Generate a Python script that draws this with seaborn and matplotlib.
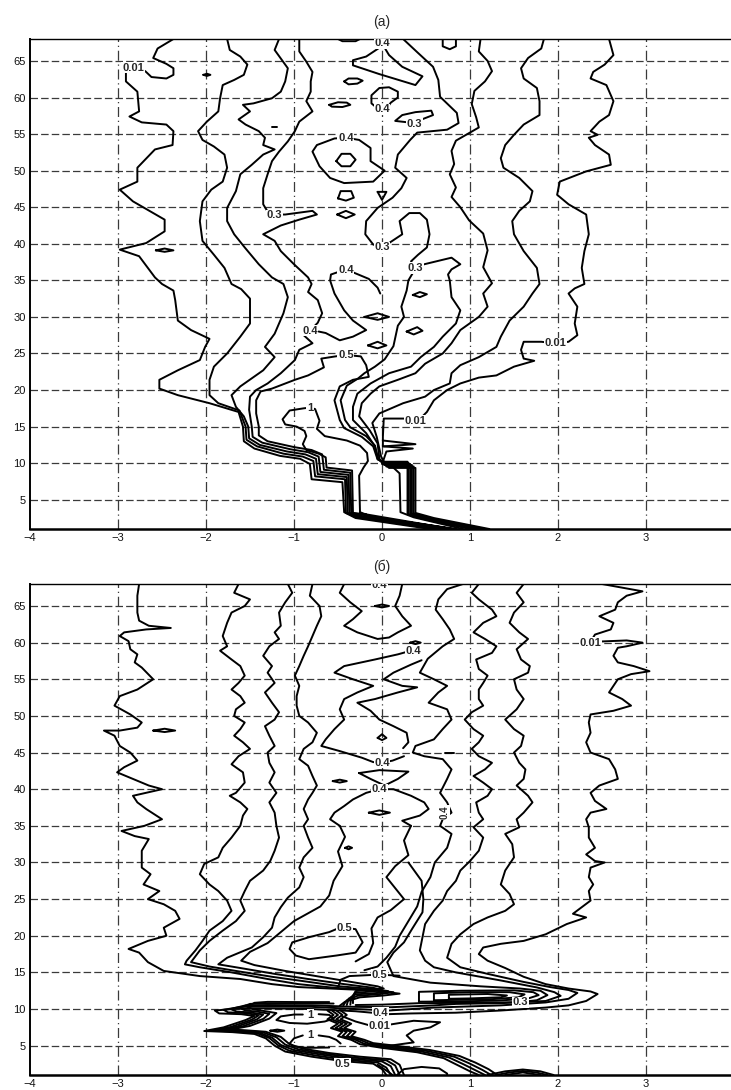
import matplotlib
matplotlib.use("Agg")
import matplotlib.pyplot as plt
import seaborn as sns
import pandas as pd

# ------------------------------------------------------------------ data
x_ticks = [-4, -3, -2, -1, 0, 1, 2, 3, 4]
y_ticks = [5, 10, 15, 20, 25, 30, 35, 40, 45, 50, 55, 60, 65]
panel_titles = ["(а)", "(б)"]

# ---- panel (а): contour lines, (x, y) points
a_A = [(-2.37,68.0),(-2.55,66.7),(-2.60,65.4),(-2.45,64.6),(-2.37,64.0),(-2.37,63.1),(-2.45,62.6),(-2.62,62.8),(-2.69,63.6),(-2.8,64.1),(-2.91,63.6),(-2.91,62.2),(-2.78,60.8),(-2.76,58.1),(-2.87,57.4),(-2.73,56.6),(-2.45,56.3),(-2.37,55.4),(-2.38,53.5),(-2.58,52.9),(-2.78,50.4),(-2.78,48.5),(-2.98,47.4),(-2.83,45.8),(-2.47,43.3),(-2.47,41.7),(-2.68,40.1),(-2.98,39.2),(-2.76,38.3),(-2.58,35.4),(-2.5,34.5),(-2.37,33.6),(-2.35,32.3),(-2.32,29.5),(-2.17,28.2),(-1.96,27.0),(-2.01,25.9),(-2.07,24.1),(-2.32,22.7),(-2.53,21.4),(-2.53,20.2),(-2.32,19.3),(-1.96,18.2),(-1.63,17.0),(-1.58,15.0),(-1.57,13.0),(-1.45,12.0),(-1.16,11.0),(-0.93,10.6),(-0.82,9.9),(-0.80,7.8),(-0.45,7.4),(-0.43,3.3),(-0.30,2.5),(0.55,1.0)]
a_B = [(-1.76,68.0),(-1.73,66.5),(-1.61,65.6),(-1.53,64.5),(-1.57,63.1),(-1.68,62.4),(-1.81,61.7),(-1.84,59.9),(-1.86,58.1),(-1.99,56.7),(-2.09,55.4),(-2.04,54.2),(-1.91,53.3),(-1.79,52.2),(-1.76,50.4),(-1.81,48.5),(-1.94,47.4),(-2.04,45.8),(-2.07,43.1),(-2.04,40.4),(-1.91,38.5),(-1.79,36.7),(-1.71,34.5),(-1.6,33.8),(-1.5,32.5),(-1.5,29.1),(-1.61,27.3),(-1.76,25.0),(-1.91,23.2),(-1.96,21.4),(-1.96,19.3),(-1.86,18.2),(-1.62,17.2),(-1.55,15.0),(-1.54,13.2),(-1.42,12.3),(-1.12,11.3),(-0.90,10.9),(-0.78,10.3),(-0.76,8.2),(-0.42,7.8),(-0.41,3.2),(-0.28,2.6),(0.60,1.0)]
a_C = [(-1.17,68.0),(-1.22,66.5),(-1.07,64.0),(-1.10,62.2),(-1.15,60.8),(-1.25,59.9),(-1.46,59.2),(-1.58,59.0),(-1.50,58.1),(-1.63,57.0),(-1.55,56.3),(-1.40,55.4),(-1.33,54.5),(-1.35,53.5),(-1.22,52.9),(-1.35,52.2),(-1.48,50.8),(-1.61,49.5),(-1.66,47.2),(-1.76,44.9),(-1.76,43.1),(-1.68,41.3),(-1.56,39.5),(-1.40,37.2),(-1.25,35.4),(-1.12,34.5),(-1.07,32.7),(-1.12,30.5),(-1.22,27.7),(-1.33,25.9),(-1.22,24.5),(-1.35,22.7),(-1.61,20.5),(-1.71,19.3),(-1.66,17.7),(-1.57,16.4),(-1.52,15.0),(-1.51,13.4),(-1.39,12.5),(-1.08,11.6),(-0.87,11.2),(-0.75,10.6),(-0.73,8.5),(-0.40,8.1),(-0.39,3.2),(-0.26,2.7),(0.65,1.0)]
a_D = [(-0.94,68.0),(-0.94,66.3),(-0.86,64.9),(-0.79,63.5),(-0.81,62.2),(-0.81,60.8),(-0.86,59.5),(-0.79,58.1),(-0.94,56.7),(-0.99,55.4),(-1.07,54.0),(-1.17,52.6),(-1.25,51.3),(-1.30,49.5),(-1.35,47.6),(-1.35,45.4),(-1.28,44.0),(-1.10,44.0),(-0.79,44.5),(-0.74,44.0),(-0.94,43.3),(-1.15,42.5),(-1.35,41.3),(-1.22,40.4),(-1.15,39.0),(-1.00,37.2),(-0.84,35.4),(-0.80,34.5),(-0.84,33.4),(-0.73,32.3),(-0.68,30.5),(-0.73,29.2),(-0.82,28.1),(-0.89,27.5),(-0.79,26.4),(-0.94,25.5),(-0.99,24.1),(-1.15,22.3),(-1.30,20.9),(-1.43,20.0),(-1.50,19.1),(-1.51,17.3),(-1.48,15.0),(-1.47,13.6),(-1.36,12.8),(-1.04,11.9),(-0.84,11.5),(-0.72,10.9),(-0.70,8.8),(-0.38,8.4),(-0.37,3.2),(-0.24,2.8),(0.70,1.0)]
a_hook = [(-0.02,33.2),(-0.05,34.0),(-0.15,35.2),(-0.41,36.5),(-0.58,35.8),(-0.59,35.0),(-0.54,33.2),(-0.43,30.9),(-0.33,29.5),(-0.18,28.2),(-0.33,27.3),(-0.48,26.8),(-0.64,27.8),(-0.72,28.0)]
a_05 = [(0.75,1.0),(-0.20,2.9),(-0.35,3.2),(-0.36,8.7),(-0.66,9.1),(-0.68,11.2),(-0.80,11.8),(-1.00,12.2),(-1.30,13.0),(-1.40,13.8),(-1.40,15.0),(-1.43,16.8),(-1.43,18.6),(-1.38,19.8),(-1.25,20.2),(-0.99,21.4),(-0.84,22.0),(-0.66,23.1),(-0.69,24.3),(-0.53,24.6),(-0.41,24.8),(-0.24,24.6),(-0.18,23.4),(-0.15,21.8),(-0.33,21.4),(-0.48,20.5),(-0.54,18.6),(-0.48,15.9),(-0.43,14.8),(-0.23,13.6),(-0.10,12.3),(-0.05,10.5),(0.03,10.2),(0.29,10.2),(0.29,3.0),(0.46,2.4),(1.00,1.0)]
a_one = [(0.80,1.0),(-0.18,3.0),(-0.33,3.2),(-0.34,9.0),(-0.63,9.4),(-0.64,10.8),(-0.72,11.3),(-0.86,11.8),(-0.90,12.6),(-0.86,13.7),(-0.88,14.4),(-0.97,15.0),(-1.10,15.3),(-1.13,16.0),(-1.05,17.2),(-0.89,17.5),(-0.82,17.6),(-0.76,17.4),(-0.71,15.8),(-0.74,14.7),(-0.65,13.7),(-0.40,13.1),(-0.25,12.4),(-0.17,11.4),(-0.16,10.3),(-0.21,9.4),(-0.26,8.3),(-0.25,3.3),(-0.10,2.6),(0.85,1.0)]
a_thin = [(0.0,9.9),(0.12,9.5),(0.2,8.6),(0.21,3.3),(0.36,2.6),(0.92,1.0)]
a_R1 = [(0.24,68.0),(0.40,66.2),(0.58,64.2),(0.64,62.4),(0.66,60.1),(0.85,57.9),(0.87,56.5),(0.74,55.6),(0.40,55.2),(0.32,54.2),(0.18,52.2),(0.15,50.4),(0.28,49.0),(0.22,47.6),(0.12,46.3),(-0.05,44.9),(-0.18,43.1),(-0.19,41.3),(-0.10,39.9),(0.0,39.5),(0.08,40.1),(0.23,41.3),(0.20,43.1),(0.31,44.2),(0.43,44.2),(0.51,43.3),(0.54,41.3),(0.51,39.5),(0.41,38.5),(0.33,37.6),(0.38,36.7),(0.48,37.2),(0.79,38.1),(0.89,37.2),(0.79,36.5),(0.75,35.8),(0.77,35.0),(0.79,32.7),(0.89,30.9),(0.84,29.1),(0.69,27.3),(0.59,25.9),(0.44,24.5),(0.33,23.2),(0.08,22.3),(-0.13,20.9),(-0.28,19.5),(-0.33,17.7),(-0.33,15.9),(-0.18,14.1),(-0.08,12.3),(-0.04,10.5),(0.02,9.9),(0.32,9.9),(0.32,3.0),(0.50,2.35),(1.08,1.0)]
a_L855 = [(0.36,36.2),(0.30,35.0),(0.28,33.6),(0.22,31.4),(0.25,30.0),(0.18,28.8),(0.13,26.0),(0.03,24.2),(-0.08,23.2),(-0.2,22.3),(-0.27,21.6),(-0.40,20.6),(-0.47,18.6),(-0.42,15.9),(-0.36,14.9),(-0.18,13.7),(-0.08,12.4),(-0.05,10.6),(0.02,10.05),(0.30,10.05),(0.30,3.0),(0.48,2.4),(1.04,1.0)]
a_E = [(1.12,68.0),(1.10,66.3),(1.20,65.0),(1.25,63.6),(1.17,62.2),(1.05,60.9),(1.02,59.1),(1.07,57.3),(1.10,55.9),(0.97,55.0),(0.84,54.1),(0.79,52.7),(0.82,50.9),(0.77,49.5),(0.84,47.7),(0.79,46.4),(0.89,45.0),(0.99,43.2),(1.15,41.4),(1.20,39.1),(1.15,36.8),(1.25,34.6),(1.15,33.2),(1.20,31.4),(1.10,30.0),(0.89,28.2),(0.79,26.4),(0.69,25.0),(0.49,23.6),(0.38,22.3),(0.18,21.4),(-0.03,20.5),(-0.13,19.5),(-0.23,18.2),(-0.26,16.4),(-0.14,14.5),(-0.05,12.7),(-0.03,10.6),(0.03,9.75),(0.34,9.75),(0.34,3.1),(0.53,2.4),(1.12,1.0)]
a_F = [(1.84,68.0),(1.81,66.7),(1.66,65.4),(1.58,64.0),(1.61,62.6),(1.76,61.3),(1.79,59.5),(1.79,57.6),(1.61,56.3),(1.50,54.9),(1.40,53.5),(1.35,51.7),(1.38,50.4),(1.56,49.0),(1.71,47.2),(1.68,45.8),(1.56,44.5),(1.48,43.1),(1.50,41.3),(1.61,39.0),(1.76,36.7),(1.79,34.5),(1.71,33.2),(1.61,31.4),(1.45,29.5),(1.35,27.3),(1.30,25.9),(1.10,24.5),(0.89,23.4),(0.79,22.3),(0.77,20.9),(0.59,20.0),(0.49,19.1),(0.24,18.2),(-0.03,16.8),(-0.11,15.5),(-0.06,13.6),(-0.01,10.9),(0.05,9.55),(0.36,9.55),(0.36,3.15),(0.56,2.45),(1.17,1.0)]
a_G = [(2.58,68.0),(2.63,65.8),(2.53,64.5),(2.40,63.5),(2.37,62.6),(2.55,61.7),(2.63,59.5),(2.58,57.6),(2.47,56.7),(2.37,55.4),(2.45,54.9),(2.35,54.5),(2.42,53.5),(2.58,52.2),(2.60,50.8),(2.32,49.9),(2.02,48.5),(1.99,46.7),(2.12,45.4),(2.32,44.0),(2.35,41.3),(2.30,39.0),(2.27,36.7),(2.30,34.5),(2.19,33.9),(2.12,33.2),(2.22,31.4),(2.19,29.1),(2.22,27.5),(2.12,26.6),(1.96,26.4),(1.81,26.6),(1.61,26.6),(1.58,25.5),(1.61,24.3),(1.73,24.0),(1.50,23.2),(1.30,22.0),(1.10,21.7),(0.89,20.9),(0.74,20.0),(0.59,18.6),(0.51,17.0),(0.46,16.4),(0.38,15.8),(0.25,16.1),(0.02,16.1),(0.01,13.6),(0.01,12.3),(0.35,12.0),(0.05,11.6),(0.01,10.2),(0.08,9.35),(0.38,9.35),(0.38,3.2),(0.59,2.5),(1.22,1.0)]
a_top04 = [(-0.03,66.8),(-0.18,65.6),(-0.33,65.1),(-0.33,64.4),(-0.03,63.2),(0.38,61.7),(0.46,62.9),(0.23,64.2),(0.08,65.8),(0.03,66.8)]
a_arc = [(-0.5,68.0),(-0.45,67.7),(-0.3,67.7),(-0.25,68.0)]
a_ucup = [(0.69,68.0),(0.69,67.0),(0.77,66.6),(0.84,67.0),(0.84,68.0)]
a_e1 = [(-0.43,62.2),(-0.38,62.6),(-0.28,62.6),(-0.22,62.3),(-0.28,61.9),(-0.38,61.8),(-0.43,62.2)]
a_e2 = [(-0.6,59.0),(-0.5,59.35),(-0.4,59.3),(-0.36,59.0),(-0.45,58.7),(-0.57,58.75),(-0.6,59.0)]
a_ring = [(-0.06,58.6),(-0.12,59.2),(-0.12,60.3),(-0.03,61.3),(0.08,61.4),(0.18,60.8),(0.18,60.0),(0.1,59.3),(0.06,58.6)]
a_tear03 = [(0.37,56.5),(0.15,56.8),(0.23,57.6),(0.38,58.0),(0.56,58.2),(0.58,57.6),(0.43,56.9),(0.37,56.5)]
a_big04 = [(-0.41,54.5),(-0.26,54.2),(-0.13,53.1),(-0.13,51.3),(0.03,50.0),(-0.1,48.5),(-0.43,48.3),(-0.59,49.0),(-0.71,50.6),(-0.79,52.6),(-0.74,53.5),(-0.54,54.4),(-0.41,54.5)]
a_inner = [(-0.52,51.3),(-0.46,52.3),(-0.36,52.3),(-0.3,51.5),(-0.36,50.6),(-0.46,50.6),(-0.52,51.3)]
a_e3 = [(-0.5,46.2),(-0.47,47.2),(-0.35,47.2),(-0.32,46.3),(-0.41,45.9),(-0.5,46.2)]
a_e4 = [(-0.05,47.1),(0.0,46.0),(0.05,47.1),(-0.05,47.1)]
a_e5 = [(-0.51,44.0),(-0.41,44.5),(-0.31,44.0),(-0.41,43.5),(-0.51,44.0)]
a_e6 = [(-2.03,63.1),(-1.99,63.25),(-1.95,63.1),(-1.99,62.95),(-2.03,63.1)]
a_e7 = [(-1.25,56.0),(-1.19,56.0)]
a_e8 = [(-2.57,39.1),(-2.47,39.35),(-2.37,39.1),(-2.47,38.9),(-2.57,39.1)]
a_e9 = [(0.35,33.0),(0.43,33.4),(0.51,33.1),(0.43,32.7),(0.35,33.0)]
a_e10 = [(-0.2,30.0),(-0.05,30.5),(0.08,30.0),(-0.05,29.6),(-0.2,30.0)]
a_e11 = [(0.28,28.0),(0.4,28.6),(0.46,28.1),(0.36,27.6),(0.28,28.0)]
a_e12 = [(-0.16,26.1),(-0.05,26.6),(0.05,26.1),(-0.05,25.7),(-0.16,26.1)]
a_spike = [(0.01,13.1),(0.38,12.6),(0.02,12.3)]
a_labels = [("0.01",-2.83,64.1),("0.4",0.0,67.4),("0.4",0.0,58.4),("0.3",0.37,56.4),("0.4",-0.41,54.5),
            ("0.3",-1.22,43.9),("0.3",0.0,39.5),("0.3",0.38,36.7),("0.4",-0.41,36.4),("0.4",-0.82,28.1),
            ("0.5",-0.41,24.8),("0.01",1.97,26.4),("1",-0.82,17.6),("0.01",0.38,15.8)]

# ---- panel (б)
b_A = [(-2.76,68.0),(-2.78,66.4),(-2.78,64.1),(-2.76,63.0),(-2.65,62.3),(-2.40,62.0),(-2.68,61.8),(-2.93,61.4),(-2.98,60.9),(-2.88,60.2),(-2.86,59.1),(-2.78,58.4),(-2.81,57.3),(-2.73,56.6),(-2.60,55.0),(-2.78,53.6),(-2.98,52.7),(-3.04,51.4),(-2.86,50.2),(-2.73,49.1),(-2.78,48.4),(-2.98,48.0),(-3.16,48.0),(-3.04,47.3),(-2.98,45.9),(-2.86,45.0),(-2.78,43.9),(-2.93,43.0),(-3.01,42.3),(-2.83,41.4),(-2.65,40.5),(-2.50,40.0),(-2.83,39.1),(-2.78,38.2),(-2.68,37.3),(-2.50,35.9),(-2.70,35.0),(-2.96,34.3),(-2.81,33.6),(-2.65,33.2),(-2.73,31.6),(-2.73,29.3),(-2.63,28.4),(-2.71,27.0),(-2.53,26.1),(-2.66,25.0),(-2.48,24.3),(-2.35,23.4),(-2.30,22.3),(-2.48,21.1),(-2.45,20.0),(-2.66,19.3),(-2.88,18.2),(-2.76,17.7),(-2.66,16.4),(-2.48,15.2),(-2.07,14.5),(-1.61,14.1),(-1.25,13.4),(-0.95,13.0),(-0.50,12.75),(-0.10,12.55),(0.20,12.1),(0.02,11.85),(-0.25,11.6),(-0.42,11.0),(-0.48,10.45)]
b_B = [(-1.63,68.0),(-1.68,66.8),(-1.50,65.9),(-1.56,65.0),(-1.71,64.1),(-1.76,62.7),(-1.81,60.9),(-1.76,59.5),(-1.84,58.9),(-1.71,57.7),(-1.61,56.8),(-1.56,55.5),(-1.63,54.5),(-1.71,53.6),(-1.61,52.7),(-1.56,51.8),(-1.66,50.9),(-1.68,50.0),(-1.56,49.1),(-1.61,48.2),(-1.68,47.3),(-1.58,46.4),(-1.50,45.5),(-1.63,44.5),(-1.71,43.4),(-1.58,42.3),(-1.56,40.9),(-1.66,39.5),(-1.73,39.1),(-1.61,38.2),(-1.53,37.3),(-1.58,36.4),(-1.61,35.0),(-1.71,33.4),(-1.81,32.0),(-1.86,30.7),(-2.02,29.8),(-2.07,28.4),(-1.96,27.0),(-1.86,26.1),(-1.76,24.8),(-1.71,23.4),(-1.81,22.0),(-1.96,20.7),(-2.04,19.3),(-2.12,18.0),(-2.22,16.6),(-2.24,16.1),(-2.07,15.7),(-1.71,15.0),(-1.30,14.1),(-0.95,13.4),(-0.54,12.9),(-0.13,12.6),(0.13,12.3),(-0.02,12.05),(-0.28,11.8),(-0.40,11.2),(-0.44,10.5)]
b_C = [(-1.07,68.0),(-1.02,66.8),(-1.10,65.5),(-1.17,64.1),(-1.15,62.3),(-1.22,61.4),(-1.17,60.5),(-1.28,59.5),(-1.35,58.2),(-1.25,56.8),(-1.30,55.9),(-1.22,54.5),(-1.33,53.2),(-1.25,51.8),(-1.17,50.5),(-1.22,49.5),(-1.33,48.6),(-1.28,47.3),(-1.22,45.9),(-1.30,45.0),(-1.28,43.6),(-1.22,42.3),(-1.28,40.9),(-1.20,39.5),(-1.28,38.2),(-1.22,36.8),(-1.20,35.0),(-1.17,33.4),(-1.22,31.6),(-1.27,30.2),(-1.35,28.9),(-1.50,27.5),(-1.56,26.1),(-1.61,24.8),(-1.56,23.4),(-1.66,22.0),(-1.81,20.7),(-1.96,19.3),(-2.07,18.0),(-2.17,16.4),(-1.96,15.8),(-1.66,15.2),(-1.25,14.4),(-0.89,13.8),(-0.48,13.1),(-0.08,12.7),(0.07,12.45),(-0.05,12.2),(-0.30,12.0),(-0.38,11.4),(-0.40,10.55)]
b_D = [(-0.79,68.0),(-0.82,66.4),(-0.71,65.0),(-0.69,63.6),(-0.74,62.3),(-0.79,60.9),(-0.84,59.5),(-0.89,58.2),(-0.94,56.8),(-0.99,55.5),(-0.94,54.1),(-0.97,52.7),(-0.97,51.4),(-0.94,50.0),(-0.84,49.1),(-0.74,47.7),(-0.79,46.4),(-0.89,45.5),(-0.94,44.1),(-0.84,43.2),(-0.79,41.8),(-0.74,40.5),(-0.79,39.5),(-0.84,38.6),(-0.89,37.3),(-0.84,35.9),(-0.89,35.0),(-0.84,33.4),(-0.79,32.0),(-0.89,30.7),(-0.94,29.3),(-0.89,28.0),(-0.94,26.6),(-1.07,25.2),(-1.15,23.9),(-1.22,22.5),(-1.25,21.1),(-1.35,19.8),(-1.48,18.4),(-1.76,17.0),(-1.86,16.1),(-1.61,15.6),(-1.22,14.8),(-0.84,14.1),(-0.43,13.4),(-0.10,12.9),(0.0,12.6),(-0.12,12.4),(-0.30,12.2),(-0.35,11.6),(-0.36,10.6)]
b_U = [(-0.43,68.0),(-0.48,66.8),(-0.36,65.5),(-0.23,64.3),(-0.33,63.2),(-0.43,62.3),(-0.28,61.4),(-0.05,60.5),(0.08,60.7),(0.18,61.4),(0.33,62.3),(0.23,63.6),(0.15,65.0),(0.20,66.4),(0.23,68.0)]
b_M1 = [(0.33,58.9),(0.18,58.4),(-0.08,57.7),(-0.43,56.8),(-0.54,55.9),(-0.33,55.0),(-0.10,54.1),(-0.28,53.2),(-0.43,52.3),(-0.48,50.9),(-0.43,49.5),(-0.54,48.2),(-0.64,46.8),(-0.69,45.9),(-0.48,45.2),(-0.23,44.3),(-0.10,43.7),(0.0,43.6),(0.12,43.9),(0.25,44.5)]
b_G = [(0.92,68.0),(0.74,67.3),(0.64,65.9),(0.61,64.5),(0.69,63.2),(0.77,61.8),(0.82,60.5),(0.69,59.5),(0.52,57.8),(0.43,55.9),(0.59,55.0),(0.74,54.1),(0.64,53.2),(0.53,51.8),(0.74,50.9),(0.79,49.5),(0.69,48.2),(0.59,46.8),(0.38,45.9),(0.35,45.0),(0.48,44.5),(0.69,44.1),(0.79,42.7),(0.74,41.4),(0.66,39.5),(0.74,38.2),(0.79,36.8),(0.69,35.9),(0.66,35.0),(0.79,33.9),(0.74,32.0),(0.6,30.0),(0.55,28.0),(0.45,26.0),(0.4,24.0),(0.3,22.0),(0.2,20.0),(0.15,18.5),(0.05,17.0),(-0.05,15.8),(-0.2,15.3)]
b_M2 = [(0.45,57.6),(0.33,57.0),(0.13,55.9),(0.02,55.0),(0.23,54.1),(0.40,53.9),(0.18,53.2),(-0.08,52.3),(-0.28,51.8),(-0.13,50.7),(-0.03,49.5),(0.13,48.6),(0.28,47.7),(0.30,46.4),(0.24,45.6)]
b_N = [(-0.48,35.0),(-0.59,35.9),(-0.54,36.8),(-0.43,37.7),(-0.33,38.6),(-0.18,39.5),(-0.03,40.0),(0.13,40.0),(0.33,39.1),(0.48,38.2),(0.53,37.3),(0.43,36.4),(0.23,35.7),(0.33,35.0)]
b_P1 = [(-0.48,35.0),(-0.42,33.5),(-0.5,31.5),(-0.45,29.5),(-0.55,27.5),(-0.6,25.5),(-0.7,24.0),(-0.85,23.0),(-1.0,22.0),(-1.15,20.5),(-1.3,19.0),(-1.5,17.8),(-1.6,16.6),(-1.45,16.0),(-1.1,15.2),(-0.7,14.4),(-0.3,13.6),(-0.05,13.1),(0.02,12.8),(-0.1,12.65),(-0.3,12.45),(-0.33,11.8),(-0.33,10.8)]
b_P2 = [(0.33,35.0),(0.25,33.0),(0.3,31.0),(0.15,29.5),(0.05,28.0),(0.15,26.5),(0.25,25.0),(0.1,23.5),(-0.05,22.5),(-0.12,21.0),(-0.1,19.0),(-0.15,17.5),(-0.3,16.5)]
b_H = [(1.10,68.0),(1.02,66.8),(1.10,65.9),(1.25,64.5),(1.30,63.6),(1.15,62.7),(1.04,61.4),(1.17,60.5),(1.30,59.5),(1.25,58.6),(1.07,57.7),(1.10,56.4),(1.20,55.5),(1.15,54.5),(1.10,53.6),(1.10,52.3),(1.15,51.4),(1.02,50.5),(0.94,49.5),(1.04,48.2),(1.15,47.3),(1.10,46.4),(1.02,45.5),(1.10,44.5),(1.25,43.6),(1.17,42.7),(1.04,41.8),(1.15,40.9),(1.25,40.0),(1.20,39.1),(1.07,38.2),(1.10,36.8),(1.15,35.9),(1.04,34.8),(1.15,33.4),(1.10,31.6),(1.00,30.2),(0.89,28.9),(0.84,27.5),(0.74,26.1),(0.69,24.8),(0.59,23.4),(0.49,21.6),(0.46,19.8),(0.43,18.0),(0.49,16.6),(0.59,15.7),(0.84,15.0),(1.35,13.9),(1.76,12.95),(1.96,12.3),(2.03,11.8),(1.86,11.1),(1.35,10.8),(0.84,10.7),(0.59,10.5),(0.1,10.25),(-0.3,10.3),(-0.8,10.5),(-1.3,10.55),(-1.55,10.5),(-1.72,10.0),(-1.65,9.65),(-1.5,9.55),(-1.35,9.25),(-1.42,8.6),(-1.65,7.6),(-1.88,7.1),(-1.65,7.0),(-1.4,6.8),(-1.25,6.1),(-1.15,5.1),(-1.0,4.4),(-0.7,3.8),(-0.35,3.2),(0.0,2.85),(0.1,2.2),(0.15,1.0)]
b_I = [(1.61,68.0),(1.53,66.8),(1.61,65.5),(1.50,64.1),(1.45,62.7),(1.56,61.4),(1.66,60.5),(1.53,59.1),(1.58,57.7),(1.68,56.8),(1.66,55.9),(1.50,55.0),(1.53,53.6),(1.61,52.3),(1.53,50.9),(1.40,49.5),(1.50,48.2),(1.61,47.3),(1.58,45.9),(1.50,45.0),(1.56,43.6),(1.63,42.7),(1.61,41.4),(1.53,40.5),(1.66,39.1),(1.71,38.2),(1.61,36.8),(1.53,35.9),(1.56,34.8),(1.40,33.9),(1.48,32.5),(1.50,30.7),(1.40,28.9),(1.35,27.0),(1.45,25.7),(1.50,24.3),(1.40,23.4),(1.20,22.5),(1.04,21.6),(0.89,20.2),(0.79,18.9),(0.74,17.0),(0.89,15.7),(1.20,14.8),(1.61,13.7),(1.91,13.0),(2.12,12.6),(2.22,12.2),(2.12,11.4),(1.86,10.9),(1.35,10.5),(0.59,10.2),(0.08,9.8),(-0.3,10.0),(-0.8,10.3),(-1.3,10.35),(-1.6,10.3),(-1.8,9.9),(-1.75,9.55),(-1.55,9.45),(-1.4,9.15),(-1.48,8.55),(-1.72,7.55),(-1.95,7.05),(-1.68,6.95),(-1.42,6.7),(-1.28,6.05),(-1.18,5.05),(-1.05,4.3),(-0.75,3.65),(-0.4,3.05),(-0.05,2.7),(0.05,2.0),(0.1,1.0)]
b_J = [(2.50,68.0),(2.73,67.5),(2.96,67.0),(2.78,66.4),(2.68,65.5),(2.65,64.5),(2.47,63.6),(2.63,62.7),(2.60,61.8),(2.42,61.1),(2.37,60.1),(2.58,60.2),(2.78,60.3),(2.96,60.0),(2.78,59.5),(2.68,59.3),(2.63,58.2),(2.68,57.3),(2.86,56.8),(3.04,56.1),(2.83,55.7),(2.68,55.0),(2.63,54.1),(2.58,53.2),(2.73,52.3),(2.83,51.4),(2.63,50.7),(2.37,50.2),(2.35,49.1),(2.37,47.7),(2.32,46.4),(2.37,45.0),(2.58,44.1),(2.65,42.7),(2.68,41.4),(2.47,40.5),(2.37,39.5),(2.42,38.4),(2.55,37.3),(2.37,36.8),(2.32,35.9),(2.35,34.8),(2.35,33.4),(2.42,32.0),(2.32,31.1),(2.42,30.2),(2.53,30.0),(2.37,29.3),(2.35,28.0),(2.40,27.0),(2.35,26.1),(2.37,24.8),(2.27,23.9),(2.17,23.0),(2.32,22.5),(2.10,21.6),(1.86,20.2),(1.61,19.3),(1.35,18.9),(1.15,18.4),(1.10,17.5),(1.20,16.6),(1.40,15.6),(1.61,14.4),(1.86,13.4),(2.12,12.8),(2.37,12.4),(2.45,12.05),(2.32,11.1),(2.12,10.5),(1.86,10.2),(1.35,9.8),(0.84,9.5),(0.33,9.4),(0.07,9.3),(-0.3,9.7),(-0.8,10.0),(-1.3,10.1),(-1.65,10.05),(-1.9,9.8),(-1.85,9.4),(-1.6,9.3),(-1.45,9.05),(-1.55,8.5),(-1.8,7.5),(-2.02,7.0),(-1.7,6.85),(-1.45,6.6),(-1.32,6.0),(-1.22,5.0),(-1.1,4.2),(-0.8,3.5),(-0.45,2.9),(-0.1,2.55),(0.0,1.8),(0.05,1.0)]
b_X1 = [(-0.55,10.75),(-0.9,10.75),(-1.3,10.78),(-1.5,10.7),(-1.62,10.15),(-1.55,9.8),(-1.42,9.65),(-1.28,9.35),(-1.35,8.65),(-1.58,7.65),(-1.8,7.15),(-1.6,7.05),(-1.36,6.85),(-1.2,6.15),(-1.1,5.15),(-0.95,4.5),(-0.65,3.9),(-0.3,3.35),(0.05,3.0),(0.15,2.3),(0.2,1.0)]
b_X2 = [(-0.6,10.95),(-0.9,10.95),(-1.3,10.98),(-1.45,10.85),(-1.53,10.3),(-1.46,9.95),(-1.35,9.75),(-1.2,9.45),(-1.28,8.7),(-1.5,7.7),(-1.72,7.2),(-1.55,7.1),(-1.32,6.9),(-1.15,6.2),(-1.05,5.2),(-0.9,4.6),(-0.6,4.0),(-0.25,3.5),(0.1,3.15),(0.2,2.4),(0.25,1.0)]
b_K = [(0.30,30.0),(0.45,27.5),(0.47,25.0),(0.46,23.2),(0.34,20.9),(0.25,19.1),(0.13,17.7),(0.06,16.4),(0.13,14.5),(0.55,13.6),(1.12,13.1),(1.57,12.8),(1.80,12.5),(1.88,11.9),(1.76,11.2),(1.57,10.95),(1.31,10.9),(0.93,10.85),(0.42,10.8),(0.0,10.6),(-0.3,10.55)]
b_Ca = [(0.42,11.0),(0.42,12.35),(0.9,12.5),(1.5,12.55),(1.72,12.3),(1.78,11.9),(1.65,11.4),(1.3,11.15),(0.9,11.05),(0.42,11.0)]
b_Cb = [(0.59,11.2),(0.59,12.15),(1.0,12.3),(1.45,12.3),(1.62,12.0),(1.55,11.6),(1.25,11.35),(0.59,11.2)]
b_Cc = [(0.76,11.4),(0.76,11.95),(1.2,12.05),(1.42,11.85),(1.35,11.6),(1.0,11.45),(0.76,11.4)]
b_W1 = [(-0.62,9.8),(-0.55,9.2),(-0.62,8.6),(-0.5,8.0),(-0.58,7.4),(-0.45,6.9),(-0.5,6.3),(-0.35,5.8),(-0.25,5.2),(0.0,4.7),(0.4,4.1),(0.7,3.3),(0.85,2.4),(1.0,1.5),(1.1,1.0)]
b_W2 = [(-0.57,9.8),(-0.5,9.2),(-0.57,8.6),(-0.45,8.0),(-0.53,7.4),(-0.4,6.9),(-0.45,6.3),(-0.3,5.8),(-0.2,5.25),(0.05,4.8),(0.45,4.2),(0.76,3.4),(0.92,2.5),(1.07,1.6),(1.17,1.0)]
b_W3 = [(-0.52,9.8),(-0.45,9.2),(-0.52,8.6),(-0.4,8.0),(-0.48,7.4),(-0.35,6.9),(-0.4,6.3),(-0.25,5.8),(-0.15,5.3),(0.1,4.9),(0.5,4.3),(0.82,3.5),(0.99,2.6),(1.14,1.7),(1.24,1.0)]
b_W4 = [(-0.47,9.8),(-0.4,9.2),(-0.47,8.6),(-0.35,8.0),(-0.43,7.4),(-0.3,6.9),(-0.35,6.3),(-0.2,5.8),(-0.1,5.35),(0.15,5.0),(0.55,4.4),(0.88,3.6),(1.06,2.7),(1.21,1.8),(1.31,1.0)]
b_L001 = [(-0.45,9.0),(-0.3,8.3),(-0.15,7.8),(-0.03,7.7),(0.1,7.9),(0.36,8.4),(0.66,8.2),(0.55,7.5),(0.36,7.05),(0.28,6.4),(0.36,5.45),(0.09,5.0),(-0.05,4.85)]
b_one_up = [(-0.72,9.3),(-0.6,9.2),(-0.55,8.7),(-0.65,8.3),(-0.85,8.0),(-1.05,8.1),(-1.2,8.5),(-1.15,9.0),(-1.0,9.25),(-0.9,9.25)]
b_one_lo_r = [(-0.72,6.4),(-0.6,6.2),(-0.52,5.8),(-0.47,5.3)]
b_one_lo_l = [(-0.9,6.4),(-1.0,6.0),(-1.05,5.3),(-1.0,4.9),(-0.85,4.7),(-0.6,4.75)]
b_e_mid = [(-1.27,7.05),(-1.19,7.2),(-1.11,7.05),(-1.19,6.9),(-1.27,7.05)]
b_loop05 = [(-0.43,21.1),(-0.3,20.9),(-0.22,19.1),(-0.3,17.7),(-0.52,17.3),(-0.83,16.8),(-0.98,17.3),(-1.05,18.2),(-1.02,19.1),(-0.83,19.8),(-0.6,20.5),(-0.52,20.9),(-0.43,21.1)]
b_line05 = [(-0.50,12.9),(-0.47,14.0),(-0.37,14.5),(-0.03,14.7),(0.2,14.55)]
b_bot_ell = [(0.17,1.0),(0.25,1.8),(0.45,2.1),(0.65,1.9),(0.74,1.2),(0.74,1.0)]
b_hill1 = [(1.2,1.0),(1.4,1.5),(1.6,1.75),(1.8,1.5),(1.95,1.0)]
b_hill2 = [(1.3,1.0),(1.45,1.35),(1.6,1.55),(1.75,1.35),(1.88,1.0)]
b_hill3 = [(1.4,1.0),(1.6,1.35),(1.8,1.0)]
b_fan = [(-0.05,2.4),(0.05,1.6),(0.12,1.0)]
b_e1 = [(-2.6,48.0),(-2.47,48.25),(-2.35,48.0),(-2.47,47.8),(-2.6,48.0)]
b_e2 = [(-0.05,47.0),(0.0,47.5),(0.05,47.0),(0.0,46.7),(-0.05,47.0)]
b_e3 = [(0.72,45.0),(0.82,45.0)]
b_e4 = [(-0.56,41.1),(-0.48,41.3),(-0.40,41.1),(-0.48,40.9),(-0.56,41.1)]
b_e5 = [(-0.26,42.2),(-0.03,42.6),(0.30,42.4),(0.18,41.4),(0.03,40.5),(-0.13,41.4),(-0.26,42.2)]
b_e6 = [(-0.15,36.8),(-0.03,37.1),(0.09,36.8),(-0.03,36.5),(-0.15,36.8)]
b_e7 = [(-0.08,65.0),(0.0,65.2),(0.08,65.0),(0.0,64.8),(-0.08,65.0)]
b_e8 = [(0.32,60.0),(0.38,60.2),(0.44,60.0),(0.38,59.8),(0.32,60.0)]
b_e9 = [(-0.42,32.0),(-0.38,32.2),(-0.34,32.0),(-0.38,31.8),(-0.42,32.0)]
b_labels = [("0.4",-0.03,67.9),("0.01",2.37,60.0),("0.4",0.36,58.9),("0.4",0.0,43.6),("0.4",-0.03,40.0),
            ("0.5",-0.43,21.1),("0.5",-0.03,14.7),("0.3",1.57,10.9),("0.4",-0.02,9.5),("1",-0.81,9.2),
            ("0.01",-0.03,7.7),("1",-0.81,6.4),("0.5",-0.45,2.55)]
b_rot_label = ("0.4", 0.71, 36.8)

panel_a_lines = [a_A,a_B,a_C,a_D,a_hook,a_05,a_one,a_thin,a_R1,a_L855,a_E,a_F,a_G,a_top04,a_arc,a_ucup,
                 a_e1,a_e2,a_ring,a_tear03,a_big04,a_inner,a_e3,a_e4,a_e5,a_e6,a_e7,a_e8,a_e9,a_e10,a_e11,a_e12,a_spike]
panel_b_lines = [b_A,b_B,b_C,b_D,b_U,b_M1,b_G,b_M2,b_N,b_P1,b_P2,b_H,b_I,b_J,b_X1,b_X2,b_K,b_Ca,b_Cb,b_Cc,
                 b_W1,b_W2,b_W3,b_W4,b_L001,b_one_up,b_one_lo_r,b_one_lo_l,b_e_mid,b_loop05,b_line05,
                 b_bot_ell,b_hill1,b_hill2,b_hill3,b_fan,b_e1,b_e2,b_e3,b_e4,b_e5,b_e6,b_e7,b_e8,b_e9]


def to_frame(lines):
    rows = []
    for i, ln in enumerate(lines):
        for j, (x, y) in enumerate(ln):
            rows.append({"line": i, "order": j, "x": x, "y": y})
    return pd.DataFrame(rows)


# ------------------------------------------------------------------ style
sns.set_style("white")
plt.rcParams["font.family"] = ["Liberation Sans", "DejaVu Sans"]

W, H = 731, 1090
fig = plt.figure(figsize=(W / 100, H / 100), dpi=100)
ax_a = fig.add_axes([30 / W, 1 - 529 / H, 704 / W, 490 / H])
ax_b = fig.add_axes([30 / W, 1 - 1075 / H, 704 / W, 491 / H])

for ax, lines, labels, title, ty in [
    (ax_a, panel_a_lines, a_labels, panel_titles[0], 22),
    (ax_b, panel_b_lines, b_labels, panel_titles[1], 567),
]:
    ax.set_xlim(-4, 4)
    ax.set_ylim(1, 68)
    ax.set_xticks(x_ticks)
    ax.set_yticks(y_ticks)
    ax.set_xticklabels([str(t).replace("-", "\u2212") for t in x_ticks])
    ax.tick_params(axis="both", length=0, labelsize=8, pad=3, colors="#111111")
    for yv in y_ticks:
        ax.axhline(yv, color="#3a3a3a", lw=0.9, ls=(0, (6, 2.5)), zorder=1)
    for xv in x_ticks[1:-1]:
        ax.axvline(xv, color="#3a3a3a", lw=0.9, ls=(0, (8, 3, 1, 3)), zorder=1)
    df = to_frame(lines)
    sns.lineplot(data=df, x="x", y="y", units="line", estimator=None, sort=False,
                 color="black", linewidth=1.4, ax=ax, legend=False, zorder=3)
    for s, x, y in labels:
        ax.text(x, y, s, ha="center", va="center", fontsize=8, fontweight="bold",
                zorder=5, clip_on=True,
                bbox=dict(boxstyle="square,pad=0.06", fc="white", ec="none"))
    ax.set_xlabel("")
    ax.set_ylabel("")
    for side in ["top", "left", "bottom"]:
        ax.spines[side].set_color("black")
    ax.spines["top"].set_linewidth(1.0)
    ax.spines["left"].set_linewidth(1.4)
    ax.spines["bottom"].set_linewidth(1.8)
    ax.spines["right"].set_visible(False)
    fig.text(382 / W, 1 - ty / H, title, ha="center", va="center", fontsize=10)

s, x, y = b_rot_label
ax_b.text(x, y, s, ha="center", va="center", fontsize=7, fontweight="bold", rotation=90,
          zorder=5, bbox=dict(boxstyle="square,pad=0.05", fc="white", ec="none"))

fig.savefig("out.png", dpi=100)
